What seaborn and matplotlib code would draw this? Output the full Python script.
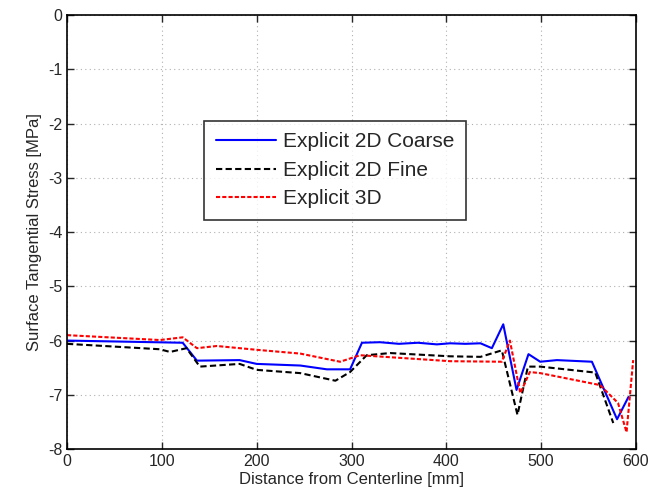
import matplotlib
matplotlib.use("Agg")
import matplotlib.pyplot as plt
import seaborn as sns
import pandas as pd

coarse_x = [0, 122, 137, 182, 200, 246, 274, 298.5, 311, 330, 350, 370, 390, 404, 420, 436, 448, 460, 474, 486.6, 499, 516.6, 553.5, 580, 592]
coarse_y = [-6.00, -6.04, -6.37, -6.36, -6.43, -6.46, -6.53, -6.53, -6.04, -6.03, -6.06, -6.04, -6.07, -6.05, -6.06, -6.05, -6.14, -5.70, -6.91, -6.25, -6.39, -6.36, -6.39, -7.45, -7.04]

fine_x = [0, 98, 108.6, 126, 140, 182, 200, 246, 283, 298.5, 316, 340.7, 404, 436, 458.5, 475, 486, 499, 557, 576]
fine_y = [-6.06, -6.16, -6.21, -6.14, -6.48, -6.43, -6.54, -6.60, -6.74, -6.58, -6.27, -6.23, -6.29, -6.30, -6.18, -7.37, -6.48, -6.48, -6.59, -7.52]

e3d_x = [0, 98, 122, 137, 158, 200, 246, 288, 309, 404, 458.5, 467, 478, 488, 499, 562, 581, 590, 597]
e3d_y = [-5.90, -5.99, -5.94, -6.14, -6.10, -6.17, -6.24, -6.39, -6.27, -6.38, -6.39, -6.00, -6.97, -6.58, -6.60, -6.82, -7.15, -7.69, -6.36]

labels = ["Explicit 2D Coarse", "Explicit 2D Fine", "Explicit 3D"]

df = pd.concat([
    pd.DataFrame({"x": coarse_x, "y": coarse_y, "series": labels[0]}),
    pd.DataFrame({"x": fine_x, "y": fine_y, "series": labels[1]}),
    pd.DataFrame({"x": e3d_x, "y": e3d_y, "series": labels[2]}),
], ignore_index=True)

sns.set_style("white")
plt.rcParams["font.family"] = ["Liberation Sans", "DejaVu Sans"]
plt.rcParams["axes.unicode_minus"] = False

fig = plt.figure(figsize=(6.53, 5.04), dpi=100)
ax = fig.add_axes([0.1026, 0.109, 0.8714, 0.861])

palette = {labels[0]: "#0000ff", labels[1]: "#000000", labels[2]: "#ff0000"}
dashes = {labels[0]: "", labels[1]: (3, 1.6), labels[2]: (2, 1.0)}
sns.lineplot(data=df, x="x", y="y", hue="series", style="series",
             palette=palette, dashes=dashes, sort=False, estimator=None,
             linewidth=1.5, ax=ax)

ax.set_xlim(0, 600)
ax.set_ylim(-8, 0)
ax.set_xticks([0, 100, 200, 300, 400, 500, 600])
ax.set_yticks([0, -1, -2, -3, -4, -5, -6, -7, -8])
ax.set_xlabel("Distance from Centerline [mm]", fontsize=12, labelpad=2)
ax.set_ylabel("Surface Tangential Stress [MPa]", fontsize=12, labelpad=4)
ax.tick_params(axis="both", labelsize=11.5, direction="in", length=5, width=1,
               top=True, right=True, bottom=True, left=True)
ax.grid(True, linestyle=(0, (1, 3)), color="#b0b0b0", linewidth=0.8)
for s in ax.spines.values():
    s.set_color("black")
    s.set_linewidth(1.2)

leg = ax.legend(loc="upper left", bbox_to_anchor=(0.241, 0.756), fontsize=15,
                frameon=True, fancybox=False, edgecolor="black",
                handlelength=2.9, handletextpad=0.35, borderpad=0.55,
                labelspacing=0.45, borderaxespad=0)
leg.get_frame().set_linewidth(1.2)
leg.set_title(None)

fig.savefig("out.png", dpi=100)
